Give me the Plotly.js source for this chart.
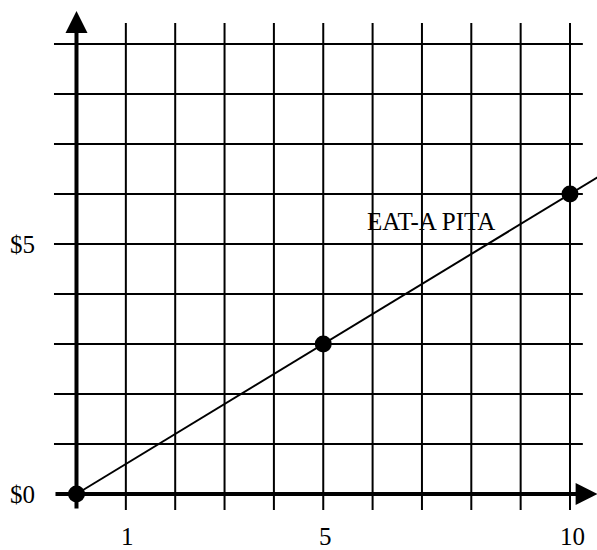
<!DOCTYPE html>
<html>
<head>
<meta charset="utf-8">
<script src="https://cdn.plot.ly/plotly-3.0.1.min.js"></script>
<style>html,body{margin:0;padding:0;background:#fff;}#chart{width:597px;height:550px;}</style>
</head>
<body>
<div id="chart"></div>
<script>
// ---- data ----
const gridX = [1, 2, 3, 4, 5, 6, 7, 8, 9, 10];
const gridY = [1, 2, 3, 4, 5, 6, 7, 8, 9];
const xTickVals = [1, 5, 10];
const xTickLabels = ['1', '5', '10'];
const yTickVals = [0, 5];
const yTickLabels = ['$0', '$5'];
const lineX = [0, 10.6];
const lineY = [0, 6.36];
const pointX = [0, 5, 10];
const pointY = [0, 3, 6];
const seriesName = 'EAT-A PITA';
const labelPos = [7.18, 5.46];

// ---- extents ----
const gridXLow = -0.32, gridXHigh = 9.42;   // y-extent of vertical grid lines
const gridYLeft = -0.456, gridYRight = 10.26; // x-extent of horizontal grid lines
const axisYTop = 9.66, axisXRight = 10.56;

const FONT = 'Liberation Serif, Times New Roman, serif';
const shapes = [];
gridX.forEach(v => shapes.push({type:'line', xref:'x', yref:'y', x0:v, x1:v, y0:gridXLow, y1:gridXHigh,
  line:{color:'#000', width:2}, layer:'below'}));
gridY.forEach(v => shapes.push({type:'line', xref:'x', yref:'y', x0:gridYLeft, x1:gridYRight, y0:v, y1:v,
  line:{color:'#000', width:2}, layer:'below'}));

const annotations = [];
// axes with arrowheads
annotations.push({x:0, y:axisYTop, ax:0, ay:gridXLow, xref:'x', yref:'y', axref:'x', ayref:'y',
  showarrow:true, arrowhead:2, arrowsize:1.1, arrowwidth:4, arrowcolor:'#000', text:''});
annotations.push({x:axisXRight, y:0, ax:gridYLeft, ay:0, xref:'x', yref:'y', axref:'x', ayref:'y',
  showarrow:true, arrowhead:2, arrowsize:1.1, arrowwidth:4, arrowcolor:'#000', text:''});
xTickVals.forEach((v, i) => annotations.push({x:v, y:-0.84, xref:'x', yref:'y', text:xTickLabels[i],
  showarrow:false, xshift:2, font:{family:FONT, size:25, color:'#000'}}));
yTickVals.forEach((v, i) => annotations.push({x:-1.1, y:v, xref:'x', yref:'y', text:yTickLabels[i],
  showarrow:false, font:{family:FONT, size:25, color:'#000'}}));
annotations.push({x:labelPos[0], y:labelPos[1], xref:'x', yref:'y', text:seriesName, showarrow:false,
  font:{family:FONT, size:25, color:'#000'}});

const traces = [
  {x:lineX, y:lineY, mode:'lines', line:{color:'#000', width:2}, hoverinfo:'skip', cliponaxis:false},
  {x:pointX, y:pointY, mode:'markers', marker:{color:'#000', size:17}, hoverinfo:'skip', cliponaxis:false}
];

const layout = {
  width:597, height:550,
  margin:{l:0, r:0, t:0, b:0},
  paper_bgcolor:'#fff', plot_bgcolor:'#fff',
  showlegend:false,
  xaxis:{range:[-1.55, 10.547], visible:false, fixedrange:true},
  yaxis:{range:[-1.12, 9.88], visible:false, fixedrange:true},
  shapes:shapes,
  annotations:annotations
};
Plotly.newPlot('chart', traces, layout, {displayModeBar:false, staticPlot:true});
</script>
</body>
</html>
